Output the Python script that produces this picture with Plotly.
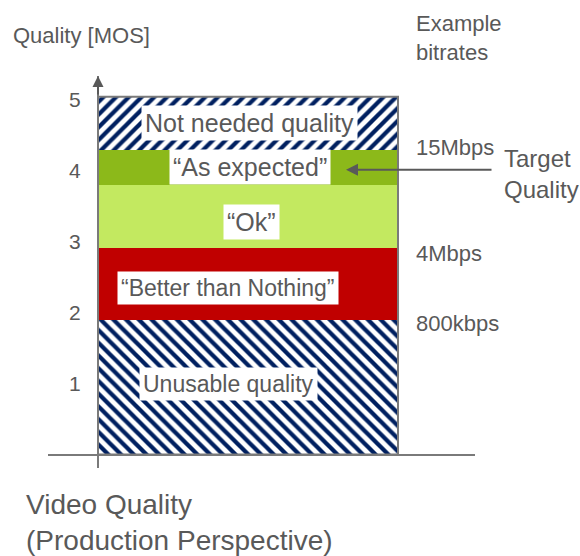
import plotly.graph_objects as go

# ---- data ----
segment_names = ["Unusable quality", "\u201cBetter than Nothing\u201d", "\u201cOk\u201d",
                 "\u201cAs expected\u201d", "Not needed quality"]
segment_heights = [1.89, 1.02, 0.89, 0.49, 0.75]
mos_ticks = [1, 2, 3, 4, 5]
bitrate_labels = ["800kbps", "4Mbps", "15Mbps"]
bitrate_at_segment_top = [0, 1, 3]   # index of segment whose top the bitrate marks
target_segment = 3

# ---- style ----
FONT = "Liberation Sans, Arial, sans-serif"
TXT = "#595959"
AX = "#7a7a7a"
NAVY = "#002060"
seg_style = [
    dict(pattern=dict(shape="\\", fgcolor=NAVY, bgcolor="white", size=9, solidity=0.47,
                      fgopacity=1, fillmode="replace")),
    dict(color="#C00000"),
    dict(color="#C3E960"),
    dict(color="#8CB91A"),
    dict(pattern=dict(shape="/", fgcolor=NAVY, bgcolor="white", size=9, solidity=0.47,
                      fgopacity=1, fillmode="replace")),
]
label_shift = [(-20, 3), (-20, -4), (3, -6), (2, 0), (1, 0)]
label_size = [23, 23, 25, 25, 25]
bitrate_shift = [-3, -6, 2]

W, H = 580, 556
ML, MR, MT, MB = 48, 105, 76, 88
PW, PH = W - ML - MR, H - MT - MB
y0_px, unit_px = 454.5, 71.0
bar_l_px, bar_r_px = 98, 398
xr = [(ML - bar_l_px) / (bar_r_px - bar_l_px), (W - MR - bar_l_px) / (bar_r_px - bar_l_px)]
yr = [-(MT + PH - y0_px) / unit_px, (y0_px - MT) / unit_px]

def px(xp, yp):
    return (xp - ML) / PW, (MT + PH - yp) / PH

fig = go.Figure()
bases = []
acc = 0
for name, h, st in zip(segment_names, segment_heights, seg_style):
    bases.append(acc)
    marker = dict(line=dict(width=0))
    if "pattern" in st:
        marker["color"] = "white"
        marker["pattern"] = st["pattern"]
    else:
        marker["color"] = st["color"]
    fig.add_trace(go.Bar(x=[0.5], y=[h], base=[acc], width=1, marker=marker,
                         name=name, showlegend=False, hoverinfo="skip"))
    acc += h
total = acc

# bar outline
fig.add_shape(type="rect", x0=0, x1=1, y0=0, y1=total, line=dict(color=AX, width=2),
              fillcolor="rgba(0,0,0,0)", layer="above")

# labels inside bar
for i, name in enumerate(segment_names):
    dx, dy = label_shift[i]
    fig.add_annotation(x=0.5, y=bases[i] + segment_heights[i] / 2, text=name, showarrow=False,
                       xshift=dx, yshift=dy, bgcolor="white", borderpad=3,
                       font=dict(family=FONT, size=label_size[i], color=TXT))

# bitrate labels
for lab, idx, dy in zip(bitrate_labels, bitrate_at_segment_top, bitrate_shift):
    x_p, _ = px(414, 0)
    fig.add_annotation(xref="paper", x=x_p, y=bases[idx] + segment_heights[idx], text=lab,
                       showarrow=False, xanchor="left", yanchor="middle", yshift=dy,
                       font=dict(family=FONT, size=22, color=TXT))

# target arrow
fig.add_annotation(x=(346 - bar_l_px) / (bar_r_px - bar_l_px),
                   y=bases[target_segment] + segment_heights[target_segment] / 2 - 0.035,
                   ax=147, ay=0, text="", showarrow=True, arrowhead=2, arrowsize=1.2,
                   arrowwidth=2, arrowcolor=TXT)
xp, yp = px(502, 174)
fig.add_annotation(xref="paper", yref="paper", x=xp, y=yp, text="Target<br>Quality",
                   showarrow=False, xanchor="left", yanchor="middle", align="left",
                   font=dict(family=FONT, size=24, color=TXT))

# y-axis arrowhead
fig.add_annotation(x=0, y=yr[1], ax=0, ay=20, text="", showarrow=True, arrowhead=2,
                   arrowsize=1.1, arrowwidth=2, arrowcolor=TXT)

# titles
xp, yp = px(11, 35)
fig.add_annotation(xref="paper", yref="paper", x=xp, y=yp, text="Quality [MOS]",
                   showarrow=False, xanchor="left", yanchor="middle",
                   font=dict(family=FONT, size=22, color=TXT))
xp, yp = px(414, 38)
fig.add_annotation(xref="paper", yref="paper", x=xp, y=yp, text="Example<br>bitrates",
                   showarrow=False, xanchor="left", yanchor="middle", align="left",
                   font=dict(family=FONT, size=22, color=TXT))
xp, yp = px(24, 522)
fig.add_annotation(xref="paper", yref="paper", x=xp, y=yp,
                   text="Video Quality<br>(Production Perspective)",
                   showarrow=False, xanchor="left", yanchor="middle", align="left",
                   font=dict(family=FONT, size=28, color=TXT))

fig.update_layout(
    width=W, height=H, margin=dict(l=ML, r=MR, t=MT, b=MB),
    paper_bgcolor="white", plot_bgcolor="white", barmode="overlay", bargap=0,
    xaxis=dict(range=xr, showgrid=False, zeroline=False, showticklabels=False,
               showline=False, fixedrange=True),
    yaxis=dict(range=yr, anchor="free", position=(bar_l_px - ML) / PW,
               tickvals=mos_ticks, ticks="", showgrid=False,
               showline=True, linecolor=AX, linewidth=2,
               zeroline=True, zerolinecolor=AX, zerolinewidth=2,
               ticklabelstandoff=12,
               tickfont=dict(family=FONT, size=21, color=TXT), fixedrange=True),
)
fig.write_html("out.html")
